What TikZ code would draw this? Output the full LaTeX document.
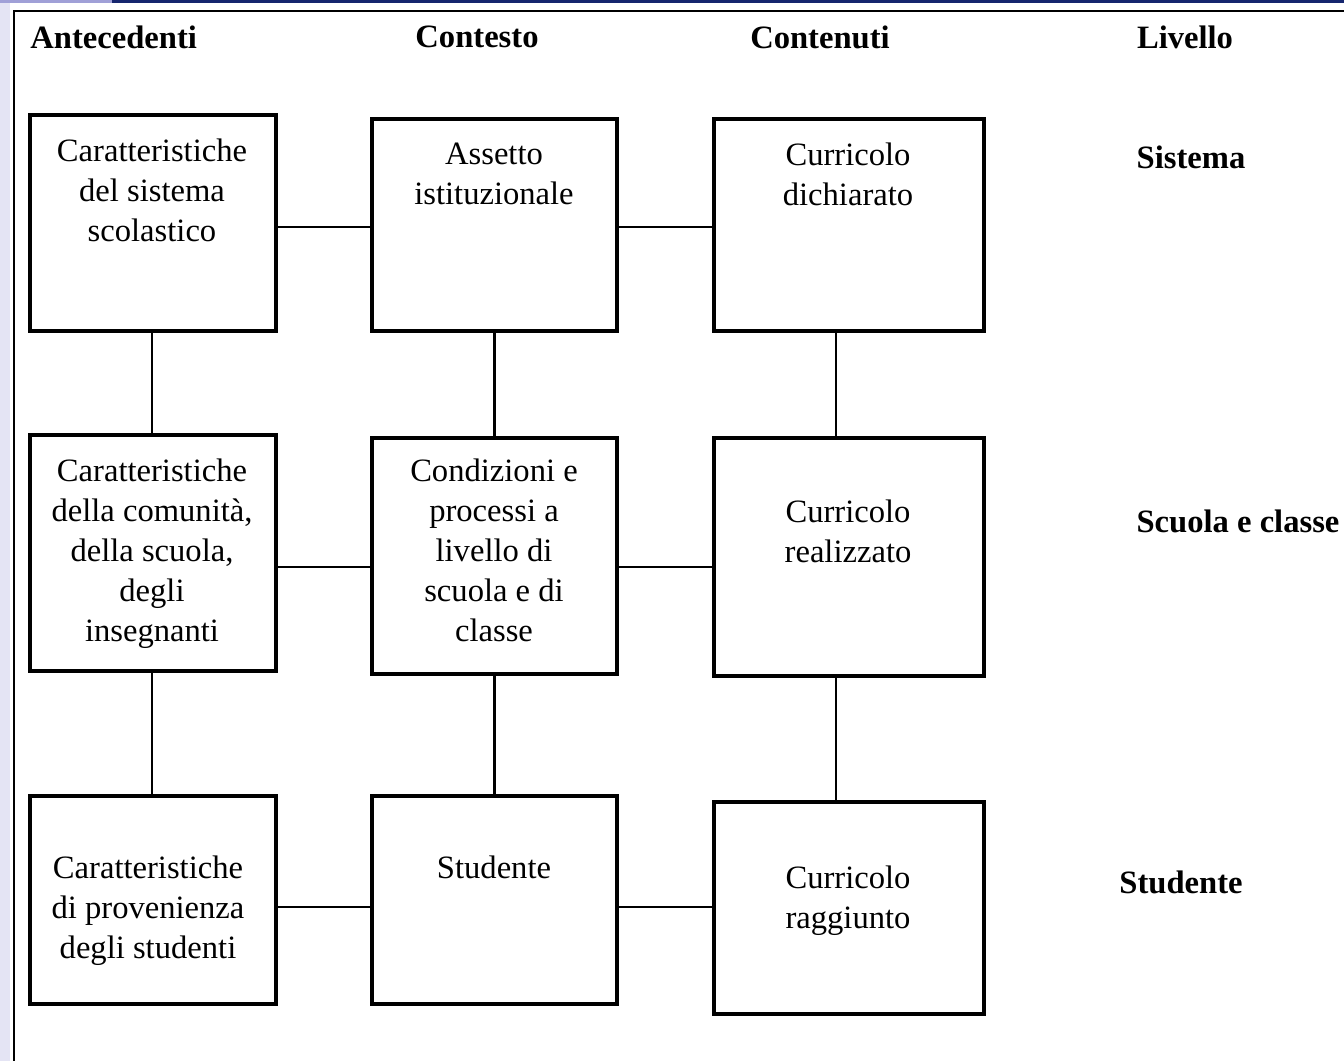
\documentclass[tikz,border=0pt]{standalone}
\usepackage{fontspec}
\setmainfont{Liberation Serif}
\usetikzlibrary{positioning}
\definecolor{barlight}{RGB}{160,160,215}
\definecolor{barnavy}{RGB}{22,38,110}
\definecolor{striplav}{RGB}{228,228,244}
\tikzset{
  box/.style={draw, line width=1.75pt, inner sep=0pt},
  boxtext/.style={align=center, inner sep=0pt, font=\fontsize{16.3}{20}\selectfont},
  head/.style={inner sep=0pt, font=\fontsize{16.3}{20}\selectfont\bfseries},
  link/.style={line width=1.2pt},
}
\begin{document}
\begin{tikzpicture}[x=0.5pt, y=-0.5pt]
   \useasboundingbox (0,0) rectangle (1344,1061);
   % slide decoration
   \fill[striplav] (0,0) rectangle (10,1061);
   \fill[barlight] (0,0) rectangle (112,3);
   \fill[barnavy] (112,0) rectangle (1344,3);
   \draw[line width=1.3pt] (1344,11) -- (14,11) -- (14,1061);
   % headings
   \node[head, anchor=west] (hant) at (30,37) {Antecedenti};
   \node[head] (hcon) at (477,37) {Contesto};
   \node[head] (hcnt) at (820,37) {Contenuti};
   \node[head] (hliv) at (1185,37) {Livello};
   \node[head] (lsis) at (1191,157) {Sistema};
   \node[head] (lscu) at (1238,521) {Scuola e classe};
   \node[head] (lstu) at (1181,882) {Studente};
   % boxes
   \node[box, minimum width=123pt, minimum height=108pt] (b1) at (153,223) {};
   \node[box, minimum width=122.5pt, minimum height=106pt] (b2) at (494.5,225) {};
   \node[box, minimum width=135pt, minimum height=106pt] (b3) at (849,225) {};
   \node[box, minimum width=123pt, minimum height=118pt] (b4) at (153,553) {};
   \node[box, minimum width=122.5pt, minimum height=118pt] (b5) at (494.5,556) {};
   \node[box, minimum width=135pt, minimum height=119pt] (b6) at (849,557) {};
   \node[box, minimum width=123pt, minimum height=104pt] (b7) at (153,900) {};
   \node[box, minimum width=122.5pt, minimum height=104pt] (b8) at (494.5,900) {};
   \node[box, minimum width=135pt, minimum height=106pt] (b9) at (849,908) {};
   % box texts
   \node[boxtext] (t1) at (152,190) {Caratteristiche\\del sistema\\scolastico};
   \node[boxtext] (t2) at (494,174) {Assetto\\istituzionale};
   \node[boxtext] (t3) at (848,174) {Curricolo\\dichiarato};
   \node[boxtext] (t4) at (152,554) {Caratteristiche\\della comunità,\\della scuola,\\degli\\insegnanti};
   \node[boxtext] (t5) at (494,550) {Condizioni e\\processi a\\livello di\\scuola e di\\classe};
   \node[boxtext] (t6) at (848,531) {Curricolo\\realizzato};
   \node[boxtext] (t7) at (148,911) {Caratteristiche\\di provenienza\\degli studenti};
   \node[boxtext] (t8) at (494,867) {Studente};
   \node[boxtext] (t9) at (848,901) {Curricolo\\raggiunto};
   % horizontal links
   \draw[link] ([yshift=-2pt]b1.east) -- ([yshift=-2pt]b1.east -| b2.west);
   \draw[link] ([yshift=-1pt]b2.east) -- ([yshift=-1pt]b2.east -| b3.west);
   \draw[link] ([yshift=-7pt]b4.east) -- ([yshift=-7pt]b4.east -| b5.west);
   \draw[link] ([yshift=-5.5pt]b5.east) -- ([yshift=-5.5pt]b5.east -| b6.west);
   \draw[link] ([yshift=-3.5pt]b7.east) -- ([yshift=-3.5pt]b7.east -| b8.west);
   \draw[link] ([yshift=-3.5pt]b8.east) -- ([yshift=-3.5pt]b8.east -| b9.west);
   % vertical links
   \draw[link] ([xshift=-0.5pt]b1.south) -- ([xshift=-0.5pt]b1.south |- b4.north);
   \draw[link] ([xshift=-0.5pt]b4.south) -- ([xshift=-0.5pt]b4.south |- b7.north);
   \draw[link] (b2.south) -- (b2.south |- b5.north);
   \draw[link] (b5.south) -- (b5.south |- b8.north);
   \draw[link] ([xshift=-6.5pt]b3.south) -- ([xshift=-6.5pt]b3.south |- b6.north);
   \draw[link] ([xshift=-6.5pt]b6.south) -- ([xshift=-6.5pt]b6.south |- b9.north);
\end{tikzpicture}
\end{document}
